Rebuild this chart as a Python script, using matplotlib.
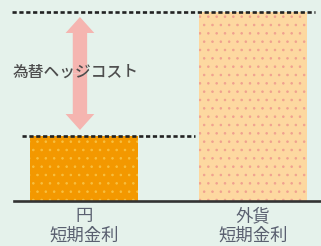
import matplotlib
matplotlib.use("Agg")
import matplotlib.pyplot as plt

plt.rcParams['font.family'] = ['Noto Sans CJK JP', 'DejaVu Sans']
plt.rcParams['hatch.linewidth'] = 0.6

# data
labels = ['円\n短期金利', '外貨\n短期金利']
rates = [0.65, 1.89]
bar_colors = ['#f39800', '#fdd8a0']
hatch_colors = ['#f8c040', '#f0a090']
arrow_label = '為替ヘッジコスト'

bg = '#e5f2eb'
fig = plt.figure(figsize=(3.21, 2.46), dpi=100, facecolor=bg)
ax = fig.add_axes([0, 0, 1, 1], facecolor=bg)
ax.set_xlim(-0.497, 1.402)
ax.set_ylim(-0.45, 2.01)
ax.axis('off')

x = [0, 1]
for i in range(2):
    ax.bar(x[i], rates[i], width=0.64, color=bar_colors[i],
           edgecolor=hatch_colors[i], hatch='..', linewidth=0, zorder=2)

# dotted level lines
dash = (0, (1.6, 1.0))
ax.plot([-0.426, 1.367], [rates[1], rates[1]], color='#222222', lw=1.9,
        linestyle=dash, zorder=4)
ax.plot([-0.367, 0.657], [rates[0], rates[0]], color='#222222', lw=1.9,
        linestyle=dash, zorder=4)

# baseline
ax.plot([-0.414, 1.402], [0, 0], color='#333333', lw=1.9, zorder=4)

# double arrow for hedge cost
ax_x = -0.024
top = rates[1] - 0.05
bot = rates[0] + 0.06
mid = (top + bot) / 2
for end in (top, bot):
    ax.arrow(ax_x, mid, 0, end - mid, width=0.085, head_width=0.17,
             head_length=0.16, length_includes_head=True,
             color='#f5b5b0', linewidth=0, zorder=3)

ax.text(-0.425, 1.29, arrow_label, fontsize=11.3, color='#4d4d4d',
        fontweight='medium', ha='left', va='center', zorder=5)

for i in range(2):
    ax.text(x[i], -0.06, labels[i], fontsize=12.5, color='#5a6070',
            ha='center', va='top', linespacing=1.1)

fig.savefig('out.png', dpi=100, facecolor=bg)
